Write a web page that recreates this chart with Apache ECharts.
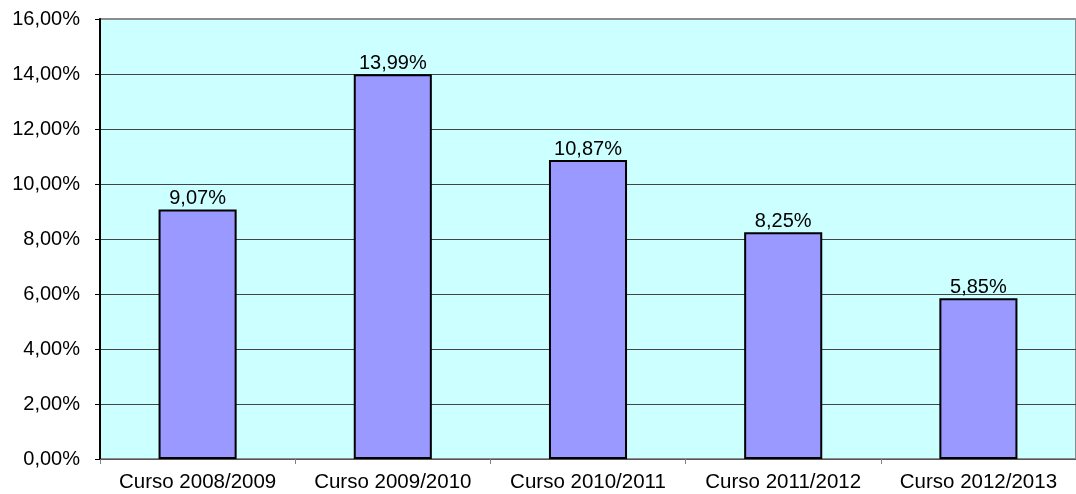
<!DOCTYPE html>
<html>
<head>
<meta charset="utf-8">
<script src="https://cdn.jsdelivr.net/npm/echarts@6/dist/echarts.min.js"></script>
<style>
  html, body { margin: 0; padding: 0; background: #ffffff; }
  #chart { width: 1076px; height: 494px; }
</style>
</head>
<body>
<div id="chart"></div>
<script>
// Course labels and their percentage values
const categories = ['Curso 2008/2009', 'Curso 2009/2010', 'Curso 2010/2011', 'Curso 2011/2012', 'Curso 2012/2013'];
const values = [9.07, 13.99, 10.87, 8.25, 5.85];

// Y axis range (percent)
const yMin = 0;
const yMax = 16;
const yStep = 2;

const fmt = v => v.toFixed(2).replace('.', ',') + '%';

const chart = echarts.init(document.getElementById('chart'));
chart.setOption({
  animation: false,
  textStyle: { fontFamily: 'Liberation Sans, Arial, sans-serif' },
  grid: {
    left: 100,
    top: 19,
    width: 985,
    height: 440,
    show: true,
    backgroundColor: '#CCFFFF',
    borderColor: '#8c8c8c',
    borderWidth: 2
  },
  xAxis: {
    type: 'category',
    data: categories,
    axisLine: { lineStyle: { color: '#555555', width: 1 } },
    axisTick: { show: true, length: 5, lineStyle: { color: '#808080' } },
    axisLabel: { color: '#000000', fontSize: 20.5, margin: 13, interval: 0, hideOverlap: false }
  },
  yAxis: {
    type: 'value',
    min: yMin,
    max: yMax,
    interval: yStep,
    axisLine: { show: true, lineStyle: { color: '#000000', width: 2 } },
    axisTick: { show: true, length: 5, lineStyle: { color: '#000000' } },
    axisLabel: { color: '#000000', fontSize: 20, margin: 20, formatter: v => fmt(v) },
    splitLine: {
      show: true,
      lineStyle: {
        color: ['#444444', '#444444', '#444444', '#444444', '#444444', '#444444', '#444444', '#444444', '#8c8c8c'],
        width: 1
      }
    }
  },
  series: [{
    type: 'bar',
    data: values,
    barWidth: '40%',
    itemStyle: { color: '#9999FF', borderColor: '#000000', borderWidth: 2 },
    label: {
      show: true,
      position: 'top',
      distance: 1,
      color: '#000000',
      fontSize: 20,
      formatter: p => fmt(p.value)
    }
  }]
});
</script>
</body>
</html>
